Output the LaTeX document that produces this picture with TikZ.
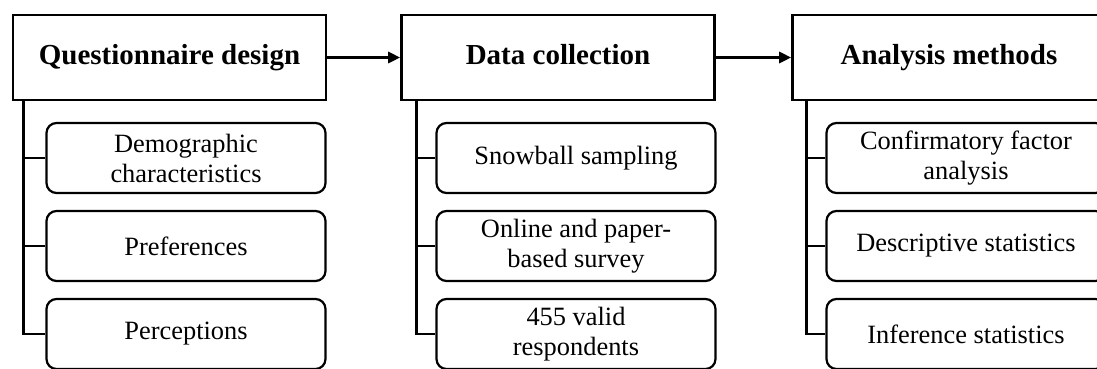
\documentclass[tikz,border=0pt]{standalone}
\usepackage{fontspec}
\setmainfont{Liberation Serif}
\usepackage{tikz}
\usetikzlibrary{positioning, arrows.meta}

\begin{document}
\begin{tikzpicture}[
    x=1pt, y=-1pt,
    stagebox/.style={draw=black, line width=2.6pt, minimum width=313pt, minimum height=85pt, text height=20pt, text depth=6pt, align=center, fill=white, font=\fontsize{29}{32}\selectfont\bfseries},
    itembox/.style={draw=black, line width=2.2pt, rounded corners=10pt, minimum width=279pt, minimum height=70pt, align=center, fill=white, font=\fontsize{26.4}{30}\selectfont},
    arrow/.style={-{Triangle[length=12pt, width=11pt]}, line width=3.4pt},
    branch/.style={line width=2.6pt}
]
    \clip (0,0) rectangle (1097,368);
    \fill[white] (0,0) rectangle (1097,368);

    \node[stagebox] (design) at (169.5, 57.5) {Questionnaire design};
    \node[stagebox] (collect) at (558, 57.5) {Data collection};
    \node[stagebox] (analysis) at (949, 57.5) {Analysis methods};

    \node[itembox] (demo) at (186, 158) {Demographic\\characteristics};
    \node[itembox] (pref) at (186, 246) {Preferences};
    \node[itembox] (perc) at (186, 334) {Perceptions};

    \node[itembox] (snow) at (576, 158) {Snowball sampling};
    \node[itembox] (survey) at (576, 246) {Online and paper-\\based survey};
    \node[itembox] (valid) at (576, 334) {455 valid\\respondents};

    \node[itembox] (cfa) at (966, 158) {Confirmatory factor\\analysis};
    \node[itembox] (desc) at (966, 246) {Descriptive statistics};
    \node[itembox] (infer) at (966, 334) {Inference statistics};

    \draw[arrow] (design) -- (collect);
    \draw[arrow] (collect) -- (analysis);

    \draw[branch] ([xshift=12pt] design.south west) |- (perc.west);
    \draw[branch] ([xshift=12pt] design.south west) |- (pref.west);
    \draw[branch] ([xshift=12pt] design.south west) |- (demo.west);

    \draw[branch] ([xshift=16pt] collect.south west) |- (valid.west);
    \draw[branch] ([xshift=16pt] collect.south west) |- (survey.west);
    \draw[branch] ([xshift=16pt] collect.south west) |- (snow.west);

    \draw[branch] ([xshift=15pt] analysis.south west) |- (infer.west);
    \draw[branch] ([xshift=15pt] analysis.south west) |- (desc.west);
    \draw[branch] ([xshift=15pt] analysis.south west) |- (cfa.west);

\end{tikzpicture}
\end{document}
